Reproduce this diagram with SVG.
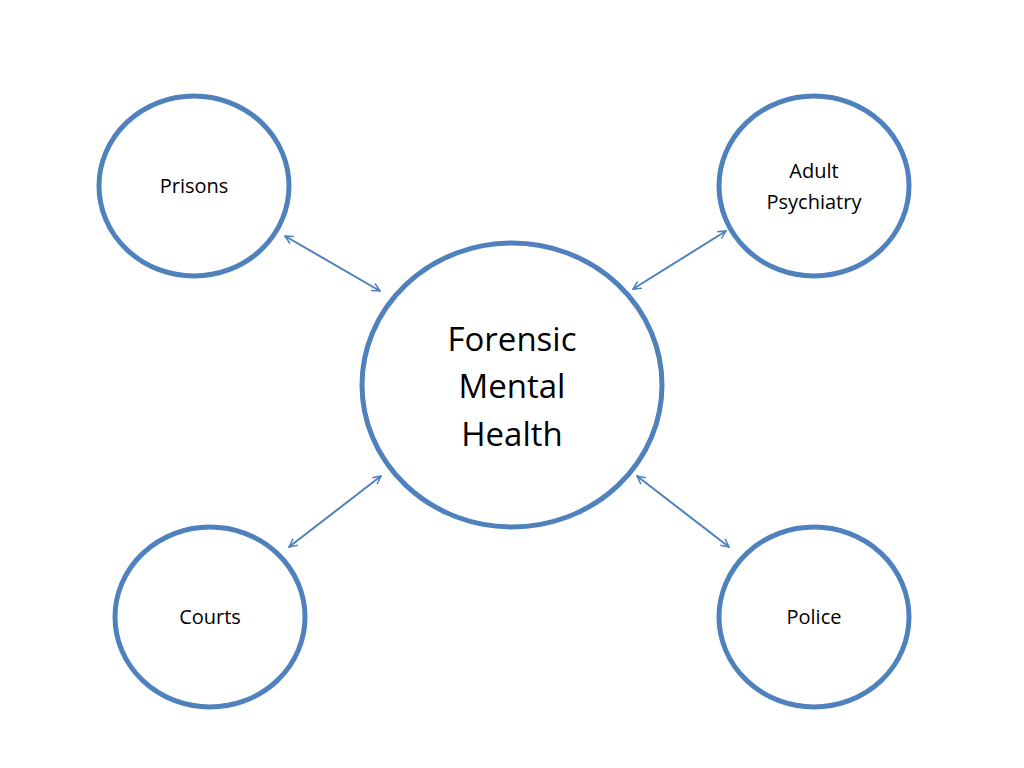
<svg xmlns="http://www.w3.org/2000/svg" width="1024" height="768" viewBox="0 0 1024 768">
<style>
.n{fill:#fff;stroke:#4f81bd;stroke-width:5}
.t{font-family:"Open Sans","Liberation Sans",sans-serif;fill:#000;text-anchor:middle}
.c{stroke:#4f81bd;stroke-width:2;fill:none;marker-start:url(#a);marker-end:url(#a)}
</style>
<defs><marker id="a" viewBox="0 0 10 10" refX="9" refY="5" markerWidth="10" markerHeight="10" orient="auto-start-reverse" markerUnits="userSpaceOnUse"><path d="M1,1 L9,5 L1,9" fill="none" stroke="#4f81bd" stroke-width="1.5"/></marker></defs>
<rect width="1024" height="768" fill="#fff"/>
<g id="connectors">
<line class="c" x1="285" y1="236" x2="380" y2="291"/>
<line class="c" x1="633" y1="289" x2="726" y2="231"/>
<line class="c" x1="381" y1="476" x2="289" y2="547"/>
<line class="c" x1="637" y1="476" x2="729" y2="547"/>
</g>
<g id="prisons"><ellipse class="n" cx="194" cy="186" rx="95" ry="90"/><text class="t" x="194" y="193" font-size="20">Prisons</text></g>
<g id="adult"><ellipse class="n" cx="814" cy="186" rx="95" ry="90"/><text class="t" x="814" y="178" font-size="20">Adult</text><text class="t" x="814" y="209" font-size="20">Psychiatry</text></g>
<g id="center"><ellipse class="n" cx="512" cy="385" rx="150" ry="142"/><text class="t" x="512" y="351" font-size="33">Forensic</text><text class="t" x="512" y="398" font-size="33">Mental</text><text class="t" x="512" y="446" font-size="33">Health</text></g>
<g id="courts"><ellipse class="n" cx="210" cy="617" rx="95" ry="90"/><text class="t" x="210" y="624" font-size="20">Courts</text></g>
<g id="police"><ellipse class="n" cx="814" cy="617" rx="95" ry="90"/><text class="t" x="814" y="624" font-size="20">Police</text></g>
</svg>
